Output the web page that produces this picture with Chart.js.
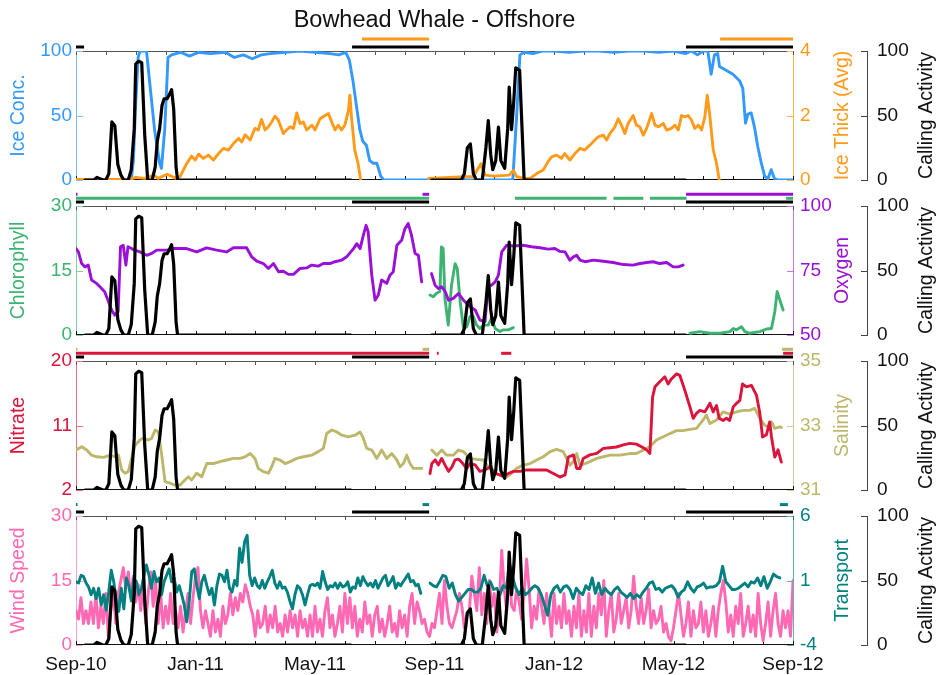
<!DOCTYPE html>
<html>
<head>
<meta charset="utf-8">
<title>Bowhead Whale - Offshore</title>
<script src="https://cdn.jsdelivr.net/npm/chart.js@4.4.1/dist/chart.umd.min.js"></script>
<style>
  body { margin: 0; background: #fff; }
  #wrap { position: relative; width: 938px; height: 675px; }
  #wrap canvas { position: absolute; left: 0; }
</style>
</head>
<body>
<div id="wrap">
  <canvas id="p1" width="938" height="195" style="top:0px"></canvas>
  <canvas id="p2" width="938" height="195" style="top:155px"></canvas>
  <canvas id="p3" width="938" height="195" style="top:310px"></canvas>
  <canvas id="p4" width="938" height="210" style="top:465px"></canvas>
</div>
<script>
// x values are months since Sep-2010
const xTickMonths = [0, 4, 8, 12, 16, 20, 24];
const xTickLabels = ['Sep-10', 'Jan-11', 'May-11', 'Sep-11', 'Jan-12', 'May-12', 'Sep-12'];
const monthTicks = [0,1,2,3,4,5,6,7,8,9,10,11,12,13,14,15,16,17,18,19,20,21,22,23,24];

const callingTicks = [0, 50, 100];
const iceConcTicks = [0, 50, 100];
const iceThickTicks = [0, 2, 4];
const chlorTicks = [0, 15, 30];
const oxygenTicks = [50, 75, 100];
const nitrateTicks = [2, 11, 20];
const salinityTicks = [31, 33, 35];
const windTicks = [0, 15, 30];
const transportTicks = [-4, 1, 6];

// [month, value]; a null value breaks the line
const callActivity = [[0.3,0],[0.6,0],[0.7,2],[0.8,1],[0.9,0],[1.0,0],[1.1,5],[1.2,45],[1.3,42],[1.4,12],[1.5,4],[1.6,0],
  [1.75,0],[1.85,8],[1.95,40],[2.0,90],[2.1,92],[2.2,91],[2.3,35],[2.4,0],[2.55,0],[2.65,10],[2.72,30],[2.8,40],[2.88,58],
  [2.95,63],[3.05,63],[3.12,66],[3.2,70],[3.27,55],[3.35,10],[3.4,0],[9.2,0],[9.25,null],[11.9,0],[12.9,0],[13.0,5],
  [13.1,25],[13.2,28],[13.3,5],[13.4,0],[13.6,0],[13.72,25],[13.8,46],[13.88,20],[13.95,8],[14.05,15],[14.14,41],
  [14.22,15],[14.35,9],[14.45,40],[14.5,72],[14.58,39],[14.65,60],[14.72,87],[14.85,85],[14.93,40],[15.0,0],[20.4,0]];

const iceConc = [[0,0],[1.85,0],[1.92,15],[2.0,60],[2.08,95],[2.14,100],[2.36,100],[2.46,77],[2.63,39],[2.8,13],[2.86,9],
  [2.97,39],[3.08,95],[3.2,97],[3.5,99],[3.8,96],[4.1,99],[4.5,98],[5.0,99],[5.3,95],[5.6,97],[5.9,94],[6.2,97],[6.5,98],
  [7.0,99],[7.5,100],[8.0,99],[8.5,98],[8.8,97],[9.03,99],[9.15,93],[9.27,77],[9.39,57],[9.5,39],[9.6,30],[9.72,27],
  [9.83,15],[9.95,13],[10.07,13],[10.2,3],[10.3,0],[14.62,0],[14.75,50],[14.86,97],[15.0,99],[15.3,98],[15.6,100],
  [16.0,100],[16.5,99],[17.0,100],[17.5,100],[18.0,99],[18.5,100],[19.0,100],[19.5,99],[20.0,100],[20.4,98],[20.6,100],
  [20.8,97],[21.0,100],[21.15,100],[21.26,82],[21.37,97],[21.48,98],[21.54,88],[21.76,85],[21.99,82],[22.21,77],
  [22.32,71],[22.41,44],[22.49,51],[22.6,52],[22.71,41],[22.82,26],[22.94,13],[23.05,3],[23.16,1],[23.27,8],[23.38,1],
  [23.5,0],[24,0]];

const iceThick = [[0,0.02],[1.8,0.02],[2.0,0.08],[2.3,0.05],[2.6,0.15],[2.75,0.05],[3.05,0.18],[3.35,0.05],[3.48,0.1],
  [3.7,0.5],[3.87,0.74],[3.99,0.62],[4.1,0.8],[4.26,0.67],[4.43,0.77],[4.6,0.62],[4.77,0.82],[4.93,0.98],[5.1,0.93],
  [5.27,1.13],[5.44,1.29],[5.55,1.18],[5.66,1.4],[5.83,1.24],[5.99,1.6],[6.1,1.55],[6.21,1.88],[6.33,1.55],[6.44,1.65],
  [6.55,1.8],[6.66,1.98],[6.77,1.86],[6.94,1.44],[7.05,1.55],[7.17,1.65],[7.28,1.6],[7.39,2.08],[7.5,1.75],[7.61,1.8],
  [7.72,1.55],[7.9,1.7],[8.0,1.55],[8.17,1.9],[8.34,2.0],[8.45,2.06],[8.56,1.8],[8.67,1.55],[8.78,1.7],[8.89,1.55],
  [9.0,1.7],[9.12,2.16],[9.17,2.63],[9.22,1.96],[9.33,0.93],[9.44,0.52],[9.53,0],[9.6,null],
  [11.8,0.05],[13.0,0.1],[13.3,0.1],[13.55,0.5],[13.7,0.15],[14.0,0.12],[14.5,0.15],[14.64,0.3],[14.75,0.1],[15.0,0.05],
  [15.2,0.05],[15.42,0.2],[15.64,0.31],[15.8,0.57],[15.92,0.72],[16.09,0.77],[16.25,0.67],[16.36,0.82],[16.53,0.62],
  [16.7,0.82],[16.87,0.98],[17.03,0.93],[17.2,1.08],[17.37,1.24],[17.48,1.34],[17.65,1.39],[17.76,1.24],[17.87,1.44],
  [18.04,1.65],[18.15,1.9],[18.26,1.7],[18.37,1.44],[18.48,1.75],[18.65,2.0],[18.76,1.7],[18.87,1.65],[18.99,1.39],
  [19.1,1.6],[19.27,2.06],[19.38,1.7],[19.49,1.65],[19.66,1.75],[19.77,1.55],[19.93,1.6],[20.05,1.7],[20.16,1.55],
  [20.27,2.0],[20.38,1.96],[20.49,2.0],[20.6,1.86],[20.71,1.6],[20.83,1.7],[20.94,1.55],[21.05,1.96],[21.13,2.63],
  [21.22,1.96],[21.33,0.93],[21.44,0.52],[21.53,0]];

const chlorophyll = [[11.85,9.3],[11.96,8.9],[12.07,9.7],[12.18,10.1],[12.23,20.5],[12.29,20.1],[12.35,8.5],[12.46,2.3],
  [12.57,11.6],[12.69,16.6],[12.76,15.5],[12.86,7.7],[12.97,1.5],[13.08,1.9],[13.19,4.3],[13.3,4.3],[13.41,2.3],
  [13.52,1.5],[13.64,2.3],[13.8,2.3],[13.91,3.9],[14.03,1.5],[14.19,0.8],[14.3,1.2],[14.47,1.2],[14.64,1.7],[15,null],
  [20.55,0.4],[20.88,0.8],[21.22,0.4],[21.55,0.4],[21.89,0.8],[22.0,1.5],[22.11,1.2],[22.28,1.9],[22.39,0.8],[22.55,0.4],
  [22.89,0.8],[23.11,1.4],[23.28,1.5],[23.39,5.4],[23.47,10.1],[23.56,8.1],[23.67,5.8]];

const oxygen = [[0,83.5],[0.08,82.2],[0.19,77.7],[0.3,76.4],[0.41,77.1],[0.52,71.3],[0.69,70],[0.8,68.7],[0.96,66.8],
  [1.07,63.5],[1.19,59.7],[1.3,57.7],[1.41,59],[1.49,84.2],[1.58,84.8],[1.67,77.1],[1.74,84.2],[1.86,83.5],[1.97,82.9],
  [2.14,82.2],[2.37,80.9],[2.53,81.6],[2.7,82.9],[3.04,82.9],[3.26,83.5],[3.7,83.5],[4.04,82.2],[4.37,83.8],[4.71,82.9],
  [5.04,82.2],[5.27,83.8],[5.71,83.8],[5.88,80.3],[6.05,78.6],[6.27,77.7],[6.44,75.8],[6.61,77.7],[6.78,74.5],[6.94,74.7],
  [7.11,73.5],[7.28,73.5],[7.5,75.8],[7.72,76],[7.89,77.1],[8.11,76.7],[8.28,77.7],[8.5,77.7],[8.67,78.4],[8.89,79],
  [9.06,80.3],[9.29,83.5],[9.4,85.4],[9.51,83.5],[9.62,88.7],[9.71,92.5],[9.78,90],[9.9,73.2],[10.01,63.5],[10.12,65.5],
  [10.23,71.3],[10.4,70],[10.51,73.2],[10.62,74.5],[10.74,84.8],[10.9,86.7],[11.01,91.2],[11.12,93.2],[11.23,88.7],
  [11.35,81.6],[11.46,80.9],[11.57,70.6],[11.7,null],[11.9,73.8],[12.02,69.3],[12.13,68],[12.24,68.7],[12.36,66.8],
  [12.47,63.5],[12.63,64.2],[12.8,66.1],[12.97,63.5],[13.19,61],[13.36,59.7],[13.52,55.8],[13.69,55.2],[13.8,69.3],
  [13.91,69.3],[14.03,70.6],[14.14,73.2],[14.25,82.2],[14.42,84.8],[14.64,84.5],[14.97,84.8],[15.25,84.2],[15.53,83.8],
  [15.81,83.3],[16.03,83.5],[16.2,82.4],[16.37,82.2],[16.53,79],[16.65,80.3],[16.76,80.9],[16.87,79],[17.04,78.4],
  [17.32,79],[17.65,78.6],[17.98,78.1],[18.32,77.3],[18.65,77.1],[18.88,77.7],[19.1,78.1],[19.32,78.4],[19.54,77.7],
  [19.77,78.1],[19.99,76.4],[20.16,76.4],[20.32,77.1]];

const nitrate = [[11.85,4.3],[11.91,5.7],[12.02,6.2],[12.13,5.5],[12.24,6.4],[12.35,5.5],[12.47,4.6],[12.58,5.2],
  [12.69,6.2],[12.8,6.3],[12.91,5.9],[13.08,5.0],[13.19,5.7],[13.36,5.5],[13.52,4.6],[13.69,4.8],[13.86,5.2],[14.03,4.3],
  [14.19,4.1],[14.3,3.9],[14.47,4.3],[14.64,4.6],[14.86,4.6],[15.09,4.8],[15.31,4.8],[15.53,4.8],[15.75,4.8],[15.98,4.3],
  [16.2,3.8],[16.37,4.1],[16.48,6.6],[16.65,6.9],[16.76,5.0],[16.87,5.0],[16.98,6.4],[17.2,6.9],[17.43,7.1],[17.65,7.8],
  [17.87,7.9],[18.09,8.0],[18.32,8.3],[18.54,8.5],[18.76,8.4],[18.99,7.9],[19.1,7.6],[19.21,7.1],[19.3,15.0],[19.38,16.4],
  [19.54,17.1],[19.71,17.8],[19.82,16.8],[19.93,17.5],[20.1,18.2],[20.21,18.0],[20.38,15.9],[20.55,13.6],[20.66,12.0],
  [20.77,12.7],[20.88,13.1],[21.05,12.9],[21.22,14.1],[21.33,12.9],[21.44,13.8],[21.53,12.0],[21.66,11.7],[21.77,12.0],
  [21.88,11.7],[22.0,13.6],[22.11,14.1],[22.22,14.5],[22.31,16.8],[22.44,16.4],[22.61,16.6],[22.78,15.2],[22.89,12.7],
  [22.98,9.4],[23.11,9.7],[23.22,11.5],[23.28,9.4],[23.39,6.6],[23.5,7.6],[23.61,5.9]];

const salinity = [[0,32.24],[0.19,32.34],[0.36,32.24],[0.52,32.08],[0.69,32.03],[0.92,32.01],[1.14,32.08],[1.31,32.03],
  [1.42,32.08],[1.53,31.62],[1.64,31.52],[1.75,31.57],[1.86,31.98],[1.98,32.39],[2.14,32.55],[2.25,32.6],[2.42,32.55],
  [2.53,32.6],[2.65,32.86],[2.76,32.8],[2.87,32.08],[2.98,31.26],[3.15,31.21],[3.31,31.15],[3.48,31.15],[3.59,31.26],
  [3.76,31.41],[3.87,31.31],[4.04,31.52],[4.21,31.41],[4.38,31.82],[4.6,31.82],[4.82,31.88],[5.04,31.93],[5.27,31.98],
  [5.49,31.98],[5.66,32.03],[5.83,32.13],[5.99,31.98],[6.1,31.67],[6.27,31.57],[6.44,31.52],[6.55,31.72],[6.66,31.98],
  [6.83,31.93],[7.0,31.82],[7.17,31.88],[7.39,31.98],[7.61,32.03],[7.89,32.08],[8.11,32.19],[8.28,32.29],[8.39,32.75],
  [8.56,32.86],[8.73,32.8],[8.9,32.7],[9.12,32.65],[9.34,32.7],[9.51,32.8],[9.62,32.6],[9.73,32.29],[9.9,32.24],
  [10.07,31.98],[10.23,32.24],[10.4,31.98],[10.57,32.13],[10.74,31.93],[10.85,31.72],[10.96,31.82],[11.07,32.08],
  [11.18,31.82],[11.29,31.67],[11.46,31.67],[11.57,31.67],[11.7,null],[11.91,32.24],[12.08,32.08],[12.24,32.24],
  [12.41,32.08],[12.63,32.08],[12.8,32.24],[12.97,32.19],[13.19,31.98],[13.41,31.95],[13.64,31.93],[13.8,31.72],
  [13.97,31.57],[14.19,31.46],[14.42,31.41],[14.58,31.52],[14.75,31.67],[14.97,31.77],[15.2,31.82],[15.42,31.93],
  [15.64,32.03],[15.87,32.19],[16.09,32.26],[16.31,32.19],[16.42,31.98],[16.53,31.77],[16.65,31.88],[16.76,32.13],
  [16.87,31.77],[17.04,31.82],[17.2,31.88],[17.43,31.98],[17.65,32.03],[17.87,32.08],[18.21,32.08],[18.54,32.13],
  [18.76,32.13],[18.99,32.24],[19.21,32.34],[19.43,32.55],[19.66,32.65],[19.88,32.75],[20.1,32.84],[20.32,32.84],
  [20.55,32.88],[20.77,32.91],[20.99,33.17],[21.1,33.32],[21.22,33.06],[21.44,33.17],[21.66,33.42],[21.88,33.35],
  [22.11,33.42],[22.33,33.47],[22.55,33.47],[22.72,33.53],[22.89,33.22],[23.05,33.01],[23.16,32.96],[23.28,33.11],
  [23.39,32.91],[23.56,32.96],[23.61,32.94]];

// evenly spaced records: [first month, last month] + values
const windSpan = [0, 24];
const windSpeed = [8,6,11,5,8,5,10,5,12,4,9,5,12,2,8,12,5,12,15,18,13,17,11,16,10,14,8,14,5,12,17,9,15,5,12,4,9,5,12,5,
  8,4,9,3,8,12,5,11,16,18,8,4,8,5,2,8,3,6,2,9,5,7,12,7,11,8,12,10,14,12,9,7,2,8,4,5,9,3,7,4,9,3,5,2,7,3,8,4,7,2,
  8,4,6,2,7,2,9,3,6,2,8,11,4,7,2,5,9,3,12,5,11,4,9,2,6,3,10,5,7,2,7,9,3,6,2,5,9,3,5,2,8,4,7,2,9,12,5,10,8,5,
  6,3,2,5,4,8,12,5,15,9,5,4,6,8,12,9,4,7,
  8,16,12,8,18,7,12,5,15,9,12,3,9,22,13,8,17,9,8,13,10,6,12,20,13,4,9,6,13,9,5,12,8,2,12,5,9,4,12,5,
  8,2,9,4,12,2,8,3,12,2,9,4,12,7,15,2,8,12,3,6,12,5,8,11,4,8,16,9,5,11,5,8,13,4,8,5,6,9,3,5,
  2,1,4,8,12,7,2,5,10,2,8,4,5,10,3,8,2,5,9,2,8,12,15,10,3,7,2,9,5,12,2,5,9,3,7,2,12,5,1,5,10,2,8,12,5,2,8,4,8,2,15];

const transportSpanA = [0, 11.54];
const transportA = [0.9,0.8,1.4,1.3,0.8,0.5,-0.1,0.4,-0.4,0.4,-0.9,-0.1,-1.3,0.1,1.8,0.9,-0.6,-1.4,0.4,-1.2,
  1.2,0.6,-0.6,1.2,0.9,-0.1,0.4,1.4,2.2,1.4,0.4,1.7,0.9,1.2,-0.1,0.9,1.4,1.9,0.9,1.2,
  0.1,0.6,-0.1,-0.9,-2.2,-0.6,1.7,1.9,0.6,-0.4,0.9,1.4,0.6,-0.1,0.4,-0.9,0.6,1.5,1.4,0.9,
  1.8,0.4,0.1,1.0,0.6,3.5,2.4,4.0,4.5,1.4,0.6,1.2,0.6,0.4,1.0,0.4,0.9,1.3,1.8,0.8,
  0.4,0.9,0.4,0.5,0.1,-0.6,-1.2,-0.1,0.6,0.4,-0.1,-0.9,-0.1,0.6,0.7,0.6,0.8,0.4,1.7,0.9,
  0.3,0.6,0.5,0.8,0.4,0.8,0.5,0.6,0.9,0.1,0.5,0.4,1.2,0.6,1.3,0.9,0.6,0.8,0.5,1.0,
  0.4,0.8,1.2,1.4,0.6,0.9,1.3,0.4,0.8,0.6,0.9,1.2,1.5,0.9,1.0,0.6,0.7,0.0];
const transportSpanB = [11.85, 23.56];
const transportB = [0.8,0.6,0.5,0.9,1.4,1.3,0.4,0.8,-0.1,-0.6,-0.3,0.0,0.3,0.3,0.1,
  0.1,0.4,1.4,0.6,0.9,0.3,0.4,-0.1,0.6,0.4,2.3,1.2,0.4,-0.1,0.4,-0.1,0.1,0.4,0.6,0.4,
  -0.1,-0.9,-1.7,-0.1,0.4,0.6,0.1,0.5,0.6,0.3,-0.4,0.4,0.1,-0.1,0.6,0.3,1.2,0.0,0.8,-0.1,
  0.4,0.1,-0.1,0.3,0.5,0.1,-0.1,-0.3,0.0,-0.4,-0.1,-0.3,0.1,0.4,0.8,0.9,0.3,0.4,0.1,0.4,
  0.5,0.6,0.3,-0.3,0.1,0.3,0.9,0.4,0.1,0.5,0.6,0.8,0.4,0.5,0.5,0.6,0.9,2.1,0.9,0.6,
  0.3,0.3,0.4,0.6,0.8,0.5,0.9,0.8,1.2,0.6,1.3,0.4,0.9,1.5,1.3,1.2];

// data-gap periods shown as bars above each panel [start, end] in months
const callGaps = [[0,0.27],[9.24,11.82],[20.42,24]];
const iceThickGaps = [[9.57,11.82],[21.56,24]];
const chlorGaps = [[0,11.82],[14.69,17.76],[17.99,18.99],[19.21,20.44],[23.77,24]];
const oxygenGaps = [[0,0.04],[11.6,11.82],[20.42,24]];
const nitrateGaps = [[0,11.82],[12.08,12.14],[14.23,14.57],[23.67,24]];
const salinityGaps = [[0,0.04],[11.6,11.82],[23.63,24]];
const transportGaps = [[0,0.04],[11.6,11.82],[23.56,23.83]];

const FONT = "'Liberation Sans', Arial, Helvetica, sans-serif";

const toPts = pairs => pairs.map(p => ({ x: p[0], y: p[1] }));
const evenPts = (span, vals) => vals.map((v, i) => ({ x: span[0] + i * (span[1] - span[0]) / (vals.length - 1), y: v }));

function line(data, axis, color, width) {
  return { data, yAxisID: axis, borderColor: color, borderWidth: width || 2.9, pointRadius: 0,
    borderJoinStyle: 'round', borderCapStyle: 'round', tension: 0, fill: false, spanGaps: false };
}

function framePlugin(opt) {
  const seg = (ctx, x1, y1, x2, y2) => { ctx.beginPath(); ctx.moveTo(x1, y1); ctx.lineTo(x2, y2); ctx.stroke(); };
  return {
    id: 'frame',
    beforeDatasetsDraw(chart) {
      const { ctx, chartArea: a, scales } = chart;
      ctx.save();
      ctx.lineWidth = 1;
      ctx.strokeStyle = '#555';
      seg(ctx, a.left, a.top + 0.5, a.right, a.top + 0.5);
      monthTicks.forEach(m => { const px = Math.round(scales.x.getPixelForValue(m)) + 0.5; seg(ctx, px, a.top, px, a.top + 4); });
      ctx.strokeStyle = '#111';
      seg(ctx, a.left, a.bottom - 0.5, a.right, a.bottom - 0.5);
      monthTicks.forEach(m => { const px = Math.round(scales.x.getPixelForValue(m)) + 0.5; seg(ctx, px, a.bottom, px, a.bottom - 4); });
      ctx.strokeStyle = opt.left.axis;
      scales.yL.ticks.forEach(t => { const py = Math.round(scales.yL.getPixelForValue(t.value)) + 0.5; seg(ctx, a.left, py, a.left + 7, py); });
      ctx.strokeStyle = opt.right.axis;
      scales.yR.ticks.forEach(t => { const py = Math.round(scales.yR.getPixelForValue(t.value)) + 0.5; seg(ctx, a.right - 6, py, a.right, py); });
      ctx.strokeStyle = '#444';
      scales.yC.ticks.forEach(t => { const py = Math.round(scales.yC.getPixelForValue(t.value)) + 0.5; seg(ctx, scales.yC.left - 6, py, scales.yC.left, py); });
      ctx.restore();
    },
    afterDraw(chart) {
      const { ctx, chartArea: a, scales } = chart;
      ctx.save();
      // data-gap bars above the panel
      ctx.lineCap = 'butt';
      opt.lanes.forEach(l => {
        ctx.strokeStyle = l.color;
        ctx.lineWidth = 3;
        l.ranges.forEach(r => {
          const x1 = scales.x.getPixelForValue(r[0]);
          const x2 = Math.max(scales.x.getPixelForValue(r[1]), x1 + 1.5);
          seg(ctx, x1, a.top - l.lift, x2, a.top - l.lift);
        });
      });
      // right-hand axis titles, read bottom to top
      const cy = (a.top + a.bottom) / 2;
      ctx.font = '19.5px ' + FONT;
      ctx.textAlign = 'center';
      ctx.textBaseline = 'middle';
      [[scales.yR.left + 50, opt.right.title, opt.right.color], [scales.yC.left + 60, 'Calling Activity', '#111']]
        .forEach(([cx, text, color]) => {
          ctx.save();
          ctx.translate(cx, cy);
          ctx.rotate(-Math.PI / 2);
          ctx.fillStyle = color;
          ctx.fillText(text, 0, 0);
          ctx.restore();
        });
      ctx.restore();
    }
  };
}

function panel(id, opt) {
  const tickFont = { family: FONT, size: 19 };
  const fixY = (w) => (s) => { s.width = w; s.paddingTop = 0; s.paddingBottom = 0; };
  const setTicks = (vals) => (s) => { s.ticks = vals.map(v => ({ value: v })); };
  const xAxis = opt.showX ? {
    type: 'linear', min: 0, max: 24, display: true,
    afterBuildTicks: setTicks(xTickMonths),
    afterFit: (s) => { s.height = 30; s.paddingLeft = 0; s.paddingRight = 0; },
    grid: { display: false, drawTicks: false }, border: { display: false },
    ticks: { autoSkip: false, maxRotation: 0, padding: 8, color: '#111', font: tickFont,
      callback: (v, i) => xTickLabels[i] }
  } : { type: 'linear', min: 0, max: 24, display: false };

  new Chart(document.getElementById(id), {
    type: 'line',
    data: { datasets: [line(toPts(callActivity), 'yC', '#000', 3.2)].concat(opt.series) },
    options: {
      responsive: false, animation: false, events: [], devicePixelRatio: 1,
      layout: { padding: { top: opt.title ? 0 : 51, left: 0, right: 0, bottom: opt.showX ? 0 : 15 } },
      plugins: {
        legend: { display: false }, tooltip: { enabled: false },
        title: opt.title ? { display: true, text: opt.title, color: '#111', fullSize: false,
          font: { family: FONT, size: 23.5, weight: 'normal', lineHeight: 1.2 }, padding: { top: 6, bottom: 16.8 } }
          : { display: false }
      },
      scales: {
        x: xAxis,
        yL: {
          position: 'left', min: opt.left.min, max: opt.left.max,
          afterBuildTicks: setTicks(opt.left.ticks), afterFit: fixY(76),
          grid: { display: false, drawTicks: false },
          border: { display: true, color: opt.left.axis, width: 1 },
          ticks: { color: opt.left.color, font: tickFont, padding: 4 },
          title: { display: true, text: opt.left.title, color: opt.left.color,
            font: { family: FONT, size: 19.5 }, padding: { top: 7.3, bottom: 0 } }
        },
        yR: {
          position: 'right', weight: 0, min: opt.right.min, max: opt.right.max,
          afterBuildTicks: setTicks(opt.right.ticks), afterFit: fixY(74),
          grid: { display: false, drawTicks: false },
          border: { display: true, color: opt.right.axis, width: 1 },
          ticks: { color: opt.right.color, font: tickFont, padding: 7 }
        },
        yC: {
          position: 'right', weight: 1, min: 0, max: 100,
          afterBuildTicks: setTicks(callingTicks), afterFit: fixY(71),
          grid: { display: false, drawTicks: false },
          border: { display: true, color: '#444', width: 1 },
          ticks: { color: '#111', font: tickFont, padding: 10 }
        }
      }
    },
    plugins: [framePlugin(opt)]
  });
}

const callLane = { lift: 4, color: '#000', ranges: callGaps };

panel('p1', {
  title: 'Bowhead Whale - Offshore',
  left: { title: 'Ice Conc.', color: '#3399ff', axis: '#7dbdff', min: 0, max: 100, ticks: iceConcTicks },
  right: { title: 'Ice Thick (Avg)', color: '#ff9a1a', axis: '#ffb34f', min: 0, max: 4, ticks: iceThickTicks },
  series: [line(toPts(iceThick), 'yR', '#ff9a1a'), line(toPts(iceConc), 'yL', '#3399ff')],
  lanes: [callLane, { lift: 12, color: '#ff9a1a', ranges: iceThickGaps }]
});

panel('p2', {
  left: { title: 'Chlorophyll', color: '#3cb371', axis: '#80d0a2', min: 0, max: 30, ticks: chlorTicks },
  right: { title: 'Oxygen', color: '#9b10d8', axis: '#c376ef', min: 50, max: 100, ticks: oxygenTicks },
  series: [line(toPts(oxygen), 'yR', '#9b10d8'), line(toPts(chlorophyll), 'yL', '#3cb371')],
  lanes: [callLane, { lift: 7.7, color: '#3cb371', ranges: chlorGaps }, { lift: 11.7, color: '#9b10d8', ranges: oxygenGaps }]
});

panel('p3', {
  left: { title: 'Nitrate', color: '#dc143c', axis: '#ee6e86', min: 2, max: 20, ticks: nitrateTicks },
  right: { title: 'Salinity', color: '#bdb76b', axis: '#d0cb96', min: 31, max: 35, ticks: salinityTicks },
  series: [line(toPts(nitrate), 'yL', '#dc143c'), line(toPts(salinity), 'yR', '#bdb76b')],
  lanes: [callLane, { lift: 7.7, color: '#dc143c', ranges: nitrateGaps }, { lift: 11.7, color: '#bdb76b', ranges: salinityGaps }]
});

panel('p4', {
  showX: true,
  left: { title: 'Wind Speed', color: '#ff69b4', axis: '#ff9fd0', min: 0, max: 30, ticks: windTicks },
  right: { title: 'Transport', color: '#008080', axis: '#5cb3b3', min: -4, max: 6, ticks: transportTicks },
  series: [line(evenPts(transportSpanA, transportA), 'yR', '#008080'), line(evenPts(transportSpanB, transportB), 'yR', '#008080'),
    line(evenPts(windSpan, windSpeed), 'yL', '#ff69b4')],
  lanes: [callLane, { lift: 11.4, color: '#008080', ranges: transportGaps }]
});
</script>
</body>
</html>
